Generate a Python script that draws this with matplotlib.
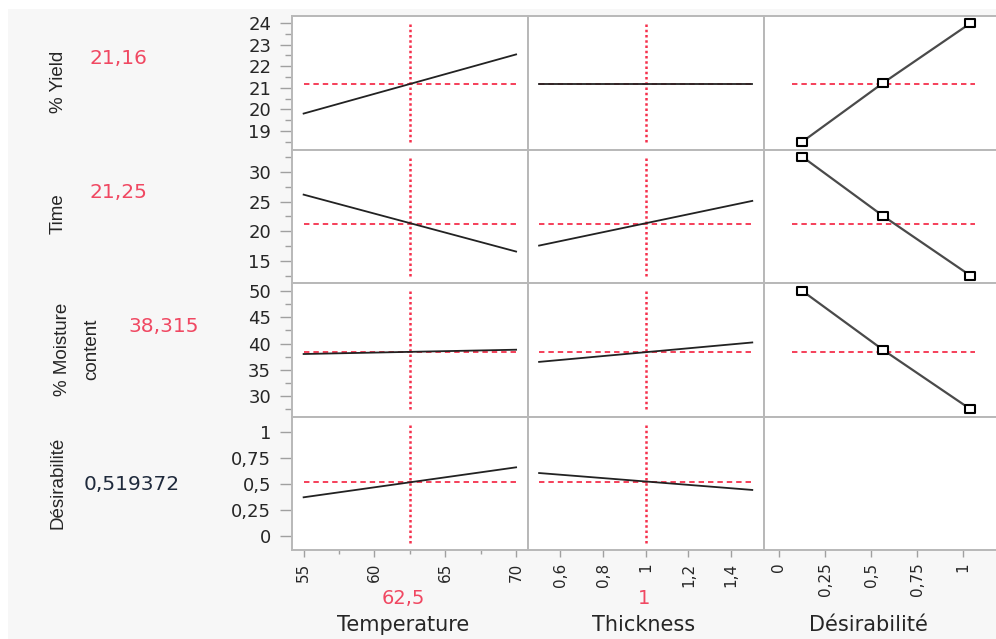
import numpy as np
import matplotlib.pyplot as plt
from matplotlib.patches import Rectangle
from matplotlib.path import Path
from matplotlib.ticker import FixedLocator, FixedFormatter, MultipleLocator, NullLocator

plt.rcParams['font.family'] = ['DejaVu Sans']

responses = ['% Yield', 'Time', '% Moisture\ncontent', 'Désirabilité']
resp_now = ['21,16', '21,25', '38,315', '0,519372']
resp_val = [21.16, 21.25, 38.315, 0.519372]

factors = ['Temperature', 'Thickness', 'Désirabilité']
temp_x = [55, 70]
thick_x = [0.5, 1.5]
factor_now = [62.5, 1.0]
factor_now_lbl = ['62,5', '1']

# response value at low / high end of each factor, one pair per row
temp_y = [[19.8, 22.55], [26.2, 16.57], [38.0, 38.82], [0.373, 0.662]]
thick_y = [[21.18, 21.18], [17.58, 25.14], [36.5, 40.2], [0.607, 0.444]]

# desirability functions (x = desirability, y = response)
desir_x = [0.125, 0.565, 1.04]
desir_y = [[18.48, 21.22, 24.0], [32.64, 22.6, 12.5], [50.06, 38.8, 27.5]]
desir_ref_x = [0.07, 1.065]

yticks = [[19, 20, 21, 22, 23, 24], [15, 20, 25, 30], [30, 35, 40, 45, 50],
          [0, 0.25, 0.5, 0.75, 1]]
ytick_lbls = [['19', '20', '21', '22', '23', '24'], ['15', '20', '25', '30'],
              ['30', '35', '40', '45', '50'], ['0', '0,25', '0,5', '0,75', '1']]
xticks = [[55, 60, 65, 70], [0.6, 0.8, 1, 1.2, 1.4], [0, 0.25, 0.5, 0.75, 1]]
xtick_lbls = [['55', '60', '65', '70'], ['0,6', '0,8', '1', '1,2', '1,4'],
              ['0', '0,25', '0,5', '0,75', '1']]

# ---- layout (pixels) ----
W, H = 996, 639
ylims = [(18.12, 24.35), (11.2, 33.8), (26.06, 51.47), (-0.135, 1.15)]
yminor = [0.5, 2.5, 2.5, None]
xlims = [(54.18, 70.84), (0.448, 1.555), (-0.0815, 1.19)]
xminor = [2.5, None, None]
cols = [(292, 528), (528, 764), (764, 998)]
rows = [(15.7, 149.7), (149.7, 283.3), (283.3, 416.7), (416.7, 550)]

RED = '#f5304c'
RED_TXT = '#f04862'
GRID = '#b8b8b8'
TXT = '#262626'

box = Path([(-1.35, -1), (1.35, -1), (1.35, 1), (-1.35, 1), (-1.35, -1)],
           [1, 2, 2, 2, 79])

fig = plt.figure(figsize=(W / 100, H / 100), dpi=100, facecolor='white')
fig.patches.append(Rectangle((8 / W, 0), 1, 1 - 9 / H, transform=fig.transFigure,
                             facecolor='#f7f7f7', edgecolor='none', zorder=-10))


def px(x, y):
    return x / W, 1 - y / H


for r in range(4):
    for c in range(3):
        x0, x1 = cols[c]
        y0, y1 = rows[r]
        ax = fig.add_axes([x0 / W, 1 - y1 / H, (x1 - x0) / W, (y1 - y0) / H])
        ax.set_facecolor('white')
        ax.set_xlim(xlims[c])
        ax.set_ylim(ylims[r])
        for s in ax.spines.values():
            s.set_color(GRID)
            s.set_linewidth(1.4)
        ax.xaxis.set_major_locator(FixedLocator(xticks[c]))
        ax.yaxis.set_major_locator(FixedLocator(yticks[r]))
        ax.xaxis.set_minor_locator(MultipleLocator(xminor[c]) if xminor[c] else NullLocator())
        ax.yaxis.set_minor_locator(MultipleLocator(yminor[r]) if yminor[r] else NullLocator())
        ax.tick_params(axis='y', which='major', length=9, width=1, color='#a0a0a0',
                       pad=6, labelsize=13, labelcolor=TXT, left=(c == 0), labelleft=(c == 0))
        ax.tick_params(axis='y', which='minor', length=5, width=1, color='#a0a0a0',
                       left=(c == 0))
        ax.tick_params(axis='x', which='major', length=5, width=1, color='#a0a0a0',
                       pad=4, labelsize=11, labelcolor=TXT, labelrotation=90,
                       bottom=(r == 3), labelbottom=(r == 3))
        ax.tick_params(axis='x', which='minor', length=3, width=1, color='#a0a0a0',
                       bottom=(r == 3))
        if r == 3:
            ax.xaxis.set_major_formatter(FixedFormatter(xtick_lbls[c]))
        if c == 0:
            ax.yaxis.set_major_formatter(FixedFormatter(ytick_lbls[r]))
        if c == 2:
            ax.spines['right'].set_visible(False)

        if c < 2:
            fx = temp_x if c == 0 else thick_x
            fy = temp_y[r] if c == 0 else thick_y[r]
            ax.plot(fx, fy, color='#222222', lw=1.3, zorder=3)
            ax.plot(fx, [resp_val[r]] * 2, color=RED, lw=1.3,
                    linestyle=(0, (3, 2.2)), zorder=2)
            ax.axvline(factor_now[c], ymin=0.055, ymax=0.94, color=RED, lw=1.8,
                       linestyle=(0, (1, 1.1)), zorder=2)
        elif r < 3:
            ax.plot(desir_ref_x, [resp_val[r]] * 2, color=RED, lw=1.3,
                    linestyle=(0, (3, 2.2)), zorder=2)
            ax.plot(desir_x, desir_y[r], color='#4a4a4a', lw=1.6, zorder=3,
                    marker=box, ms=7, mfc='white', mec='black', mew=1.5)

# response labels on the left
NARROW = ['Liberation Sans', 'DejaVu Sans']
lab_pos = [(58, 82), (58, 214), (77, 349), (58, 483)]
for lbl, (x, y) in zip(responses, lab_pos):
    fig.text(*px(x, y), lbl, rotation=90, ha='center', va='center', family=NARROW,
             fontsize=13.5, color=TXT, linespacing=2.0, multialignment='center')

now_pos = [(118, 58), (118, 192), (164, 326), (132, 484)]
now_col = [RED_TXT, RED_TXT, RED_TXT, '#1f2a3c']
for lbl, (x, y), col in zip(resp_now, now_pos, now_col):
    fig.text(*px(x, y), lbl, ha='center', va='center', fontsize=14.5, color=col)

# factor labels at the bottom
fac_x = [403, 644, 868]
for i, name in enumerate(factors):
    fig.text(*px(fac_x[i], 625), name, ha='center', va='center', fontsize=15, color=TXT)
    if i < 2:
        fig.text(*px(fac_x[i], 598), factor_now_lbl[i], ha='center', va='center',
                 fontsize=14, color=RED_TXT)

fig.savefig('out.png', dpi=100, facecolor=fig.get_facecolor())
